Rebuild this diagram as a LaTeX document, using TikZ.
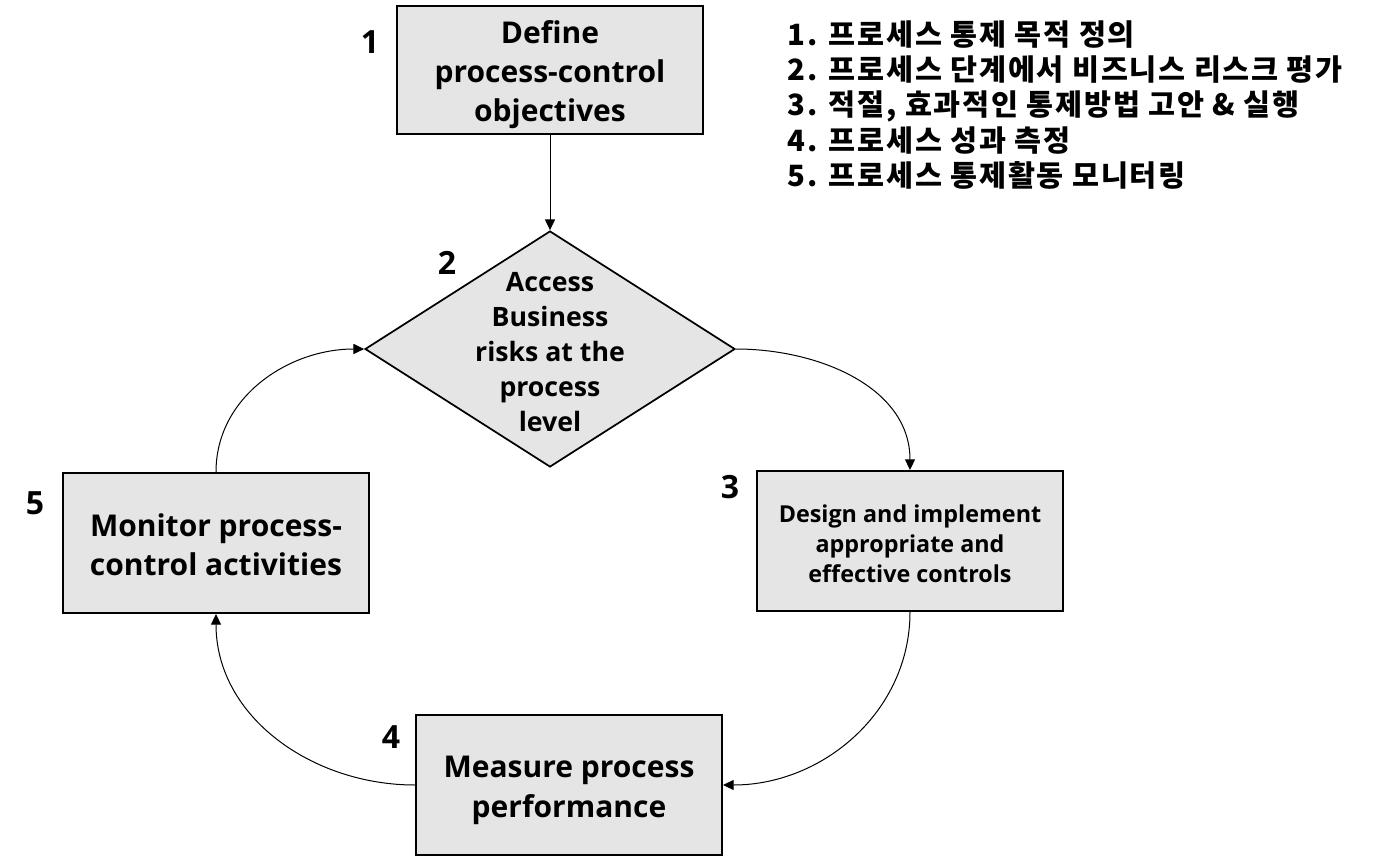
\documentclass[tikz,border=0pt]{standalone}
\usepackage{fontspec}
\setmainfont{Open Sans}
\newfontfamily\korfont{Noto Sans CJK KR}[LetterSpace=6]
\usetikzlibrary{arrows.meta,shapes.geometric,positioning}

% 첫 줄을 높여 글자 묶음을 아래로 내림
\newcommand{\pushdown}[1]{\rule{0pt}{#1}}

\begin{document}
\begin{tikzpicture}[x=0.75pt, y=0.75pt,
    stepbox/.style={draw, line width=1.5pt, fill=gray!20, inner sep=0pt,
        minimum width=229.5pt, minimum height=105pt, align=center,
        font=\fontsize{22.5}{29.5}\selectfont\bfseries},
    riskshape/.style={diamond, draw, line width=1.3pt, fill=gray!20, inner sep=0pt,
        minimum width=277.5pt, minimum height=177pt},
    stepnum/.style={font=\fontsize{24}{30}\selectfont\bfseries},
    flow/.style={line width=0.75pt, -{Triangle[length=8pt,width=7.5pt]}}
]
    \useasboundingbox (0,0) rectangle (1375,-857);

    % 1: 목적 정의
    \node[stepbox, minimum height=96pt] (define) at (550,-70)
        {\pushdown{24pt}Define\\process-control\\objectives};
    \node[stepnum] (num1) at (370,-42) {1};

    % 2: 리스크 평가 (다이아몬드)
    \node[riskshape] (risk) at (550,-349) {};
    \node[align=center, font=\fontsize{20}{26.3}\selectfont\bfseries] (risktext) at (550,-352)
        {Access\\Business\\risks at the\\process\\level};
    \node[stepnum] (num2) at (447,-263) {2};

    % 3: 통제 설계
    \node[stepbox, font=\fontsize{17.5}{22.5}\selectfont\bfseries] (design) at (910,-541)
        {\pushdown{18pt}Design and implement\\appropriate and\\effective controls};
    \node[stepnum] (num3) at (730,-487) {3};

    % 4: 성과 측정
    \node[stepbox] (measure) at (569,-785) {\pushdown{24pt}Measure process\\performance};
    \node[stepnum] (num4) at (391,-737) {4};

    % 5: 모니터링
    \node[stepbox] (monitor) at (216,-543) {\pushdown{20pt}Monitor process-\\control activities};
    \node[stepnum] (num5) at (35,-503) {5};

    % 단계 목록
    \node[anchor=west, align=left, font=\korfont\fontsize{22}{26.6}\selectfont\bfseries] (steplist) at (783,-105)
        {1. 프로세스 통제 목적 정의\\
         2. 프로세스 단계에서 비즈니스 리스크 평가\\
         3. 적절, 효과적인 통제방법 고안 \& 실행\\
         4. 프로세스 성과 측정\\
         5. 프로세스 통제활동 모니터링};

    % 순환 화살표
    \draw[flow] (define) -- (risk);
    \draw[flow] (risk.east) to[out=0, in=90] (design.north);
    \draw[flow] (design.south) to[out=-90, in=0] (measure.east);
    \draw[flow] (measure.west) to[out=180, in=-90] (monitor.south);
    \draw[flow] (monitor.north) to[out=90, in=180] (risk.west);
\end{tikzpicture}
\end{document}
